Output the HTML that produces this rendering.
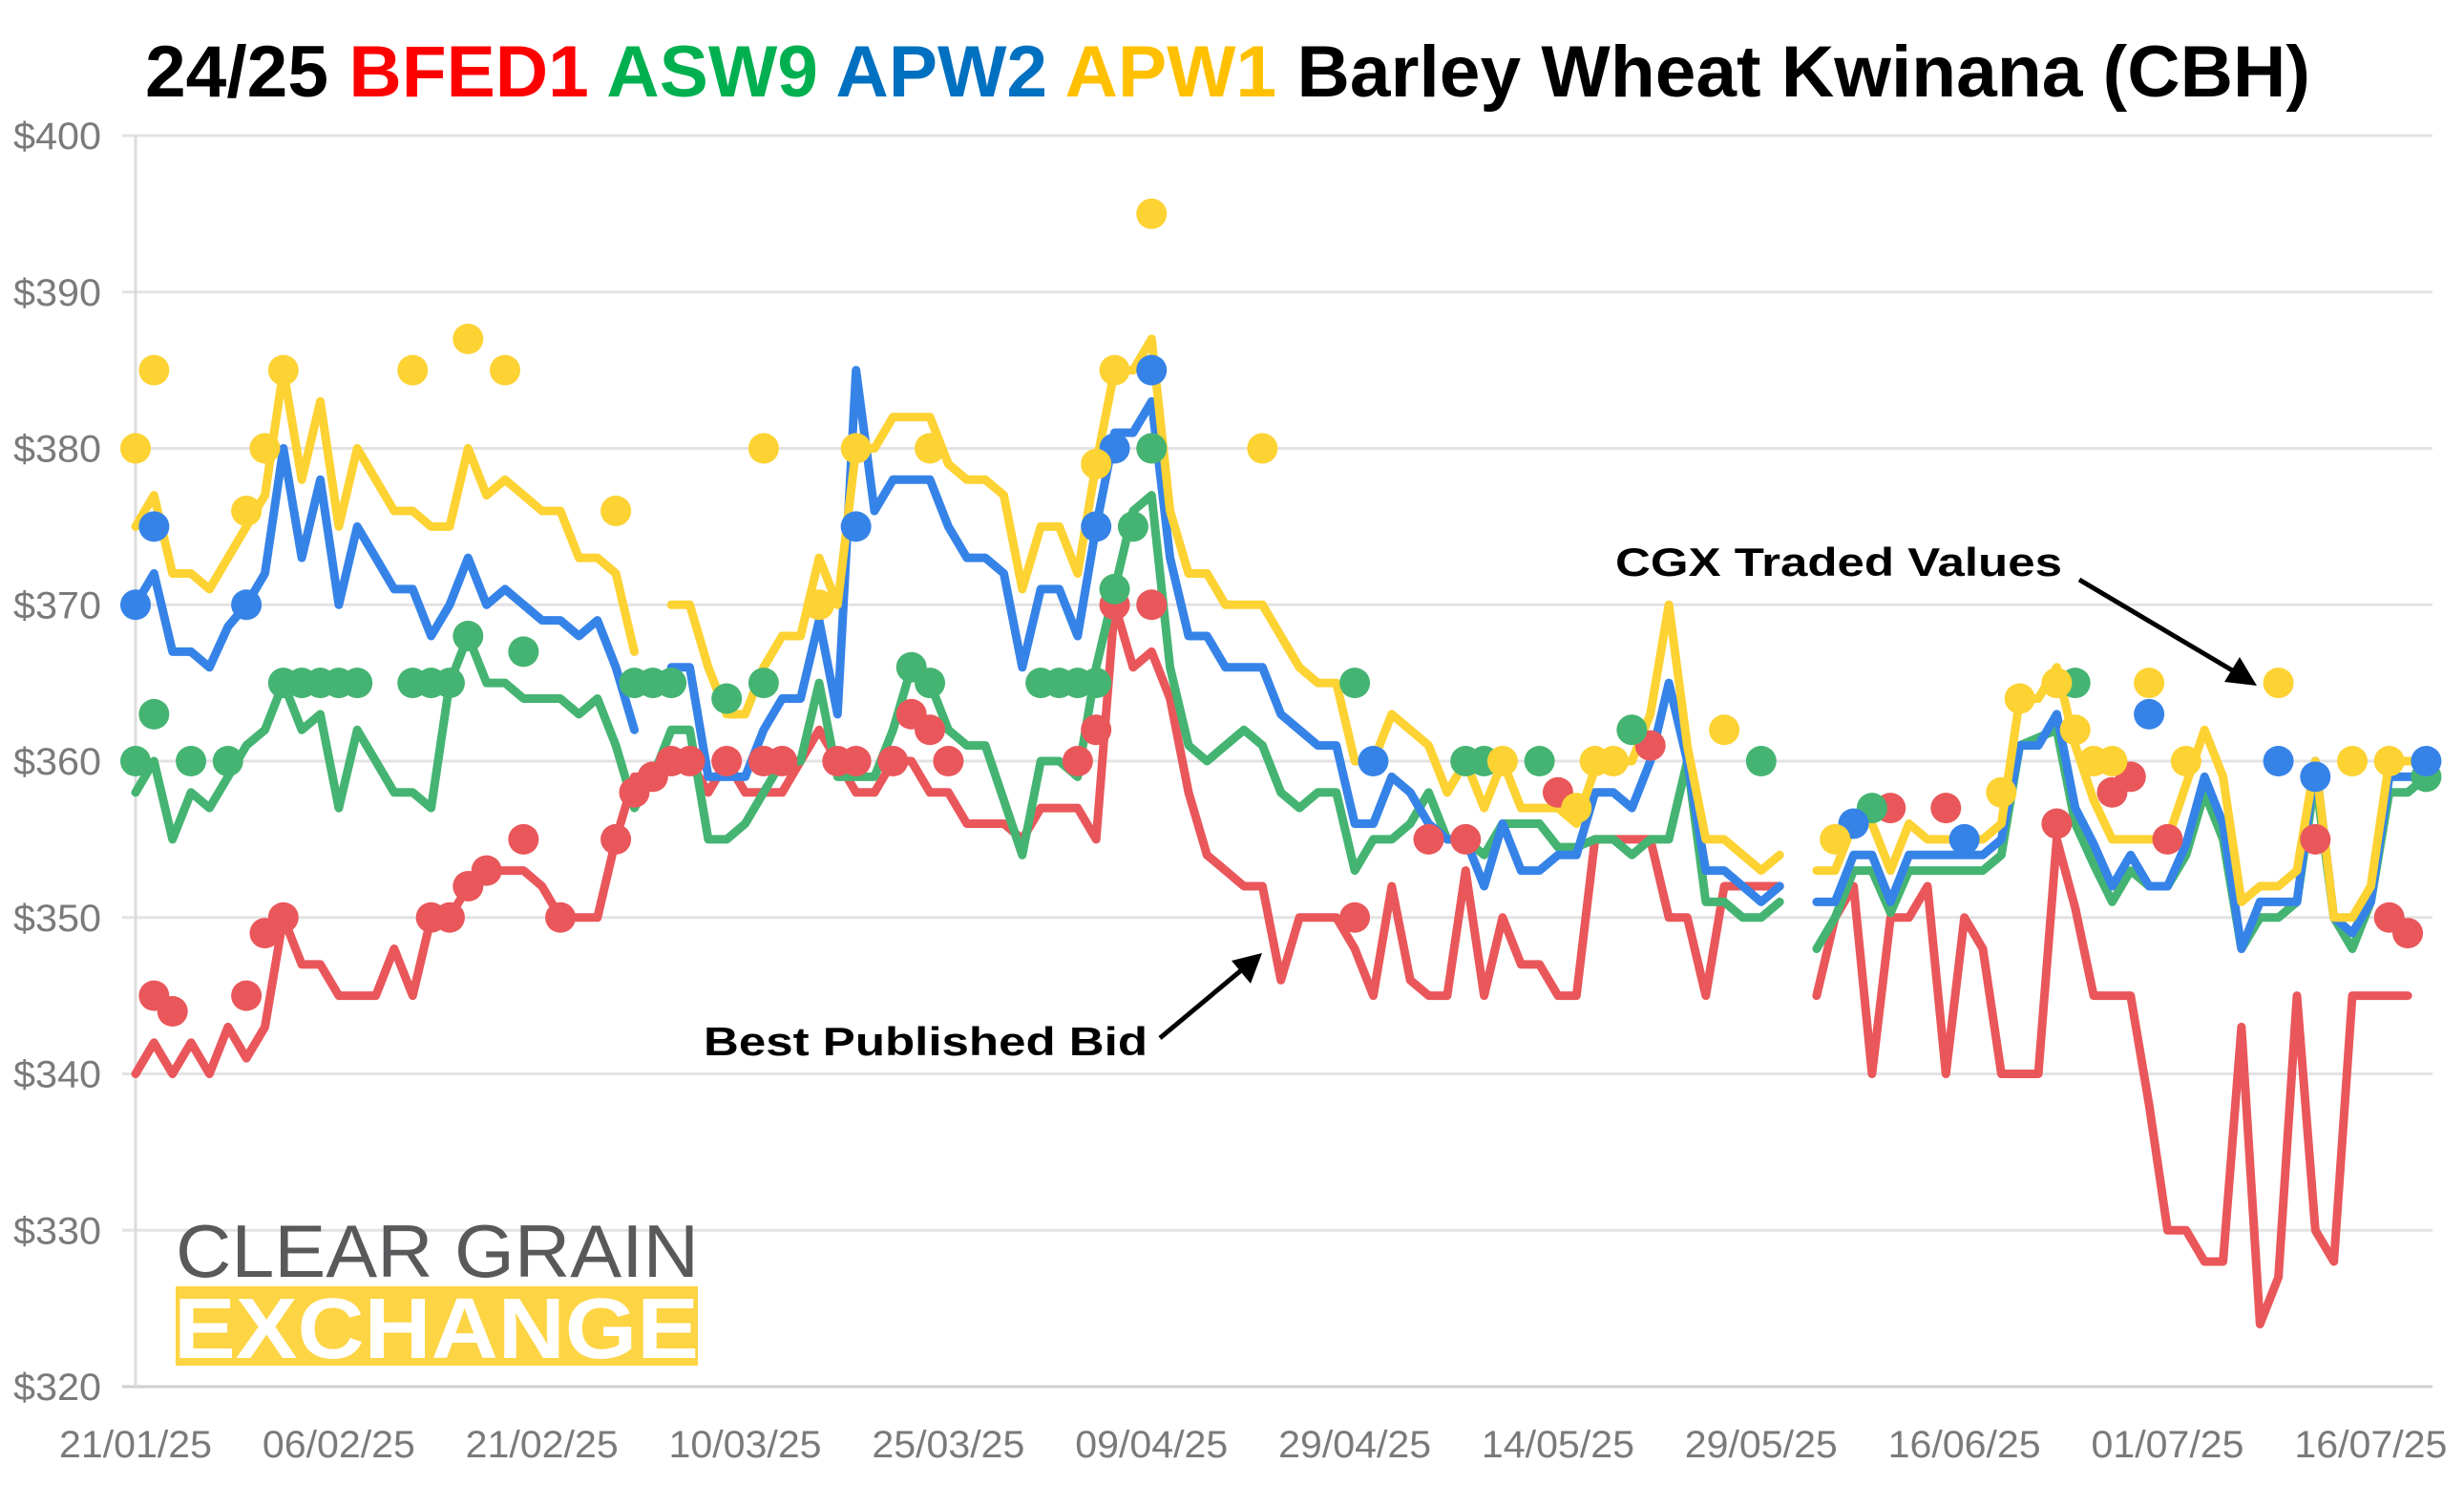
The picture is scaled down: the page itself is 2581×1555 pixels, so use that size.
<!DOCTYPE html>
<html><head><meta charset="utf-8"><title>24/25 Barley Wheat Kwinana</title>
<style>
html,body{margin:0;padding:0;background:#fff;}
svg{display:block;font-family:"Liberation Sans",sans-serif;}
</style></head>
<body>
<svg id="chart" width="2581" height="1555" viewBox="0 0 2581 1555" xmlns="http://www.w3.org/2000/svg">
<rect width="2581" height="1555" fill="#fff"/>
<text x="152" y="101" font-size="76" font-weight="bold" textLength="2268" lengthAdjust="spacingAndGlyphs"><tspan fill="#000">24/25 </tspan><tspan fill="#ff0000">BFED1 </tspan><tspan fill="#00b050">ASW9 </tspan><tspan fill="#0070c0">APW2 </tspan><tspan fill="#ffc000">APW1 </tspan><tspan fill="#000">Barley Wheat Kwinana (CBH)</tspan></text>
<g id="grid"></g>
<g id="logo">
<text x="184" y="1337" font-size="78" fill="#58595b" textLength="548" lengthAdjust="spacingAndGlyphs">CLEAR GRAIN</text>
<rect x="184" y="1347" width="547" height="83" fill="#fdd443"/>
<text x="182" y="1422" font-size="90" font-weight="bold" fill="#fff" textLength="550" lengthAdjust="spacingAndGlyphs">EXCHANGE</text>
</g>
<g id="series"></g>
<g id="annot">
<text x="1692" y="603" font-size="42" font-weight="bold" fill="#000" textLength="468" lengthAdjust="spacingAndGlyphs">CGX Traded Values</text>
<line x1="2178" y1="607" x2="2345" y2="706" stroke="#000" stroke-width="5"/>
<polygon points="2364,718 2330,714 2346,688" fill="#000"/>
<text x="737" y="1105" font-size="42" font-weight="bold" fill="#000" textLength="465" lengthAdjust="spacingAndGlyphs">Best Published Bid</text>
<line x1="1215" y1="1087" x2="1305" y2="1012" stroke="#000" stroke-width="5"/>
<polygon points="1322,998 1310,1030 1290,1006" fill="#000"/>
</g>
</svg>
<script>
const yTicks = [320,330,340,350,360,370,380,390,400];
const yTickLabels = ["$320","$330","$340","$350","$360","$370","$380","$390","$400"];
const xLabels = ["21/01/25","06/02/25","21/02/25","10/03/25","25/03/25","09/04/25","29/04/25","14/05/25","29/05/25","16/06/25","01/07/25","16/07/25"];
const xLabelIdx = [0,11,22,33,44,55,66,77,88,99,110,121];

const apw1 = [375,377,372,372,371,373,375,377,385,378,383,375,380,378,376,376,375,375,380,377,378,377,376,376,373,373,372,367,null,
370,370,366,363,363,366,368,368,373,370,380,380,382,382,382,379,378,378,377,371,375,375,372,379,385,385,387,376,372,372,370,370,370,
368,366,365,365,360,360,363,362,361,358,360,357,360,357,357,357,356,359.5,360,360,363,370,361,355,355,354,353,354,null,
353,353,356,356,353,356,355,355,355,355,356,364,364,366,361,357.5,355,355,355,355,358.5,362,359,351,352,352,353,360,350,350,352,360,360,360];
const apw2 = [370,372,367,367,366,368.6,370,372,380,373,378,370,375,373,371,371,368,370,373,370,371,370,369,369,368,369,366,362,null,
366,366,359,359,359,362,364,364,369,363,385,376,378,378,378,375,373,373,372,366,371,371,368,375,381,381,383,373,368,368,366,366,366,
363,362,361,361,356,356,359,358,356,355,355,352,356,353,353,354,354,358,358,357,360,365,360,353,353,352,351,352,null,
351,351,354,354,351,354,354,354,354,354,355,361,361,363,357,354.7,352,354,352,352,354.7,359,356,348,351,351,351,360,350,349,351,359,359,359];
const asw9 = [358,360,355,358,357,359,361,362,365,362,363,357,362,360,358,358,357,365,368,365,365,364,364,364,363,364,361,357,359,
362,362,355,355,356,358,360,360,365,359,359,359,362,366,365,362,361,361,357.5,354,360,360,359,366,371,376,377,366,361,360,361,362,361,
358,357,358,358,353,355,355,356,358,355,355,354,356,356,356,354.5,354.5,355,355,354,355,355,360,351,351,350,350,351,null,
348,350,353,353,350.3,353,353,353,353,353,354,361,361.5,362,356,353.4,351,353,352,352,354,358,355,348,350,350,351,359,350,348,351,358,358,359];
const bfed1 = [340,342,340,342,340,343,341,343,350,347,347,345,345,345,348,345,350,350,352,353,353,353,352,350,350,350,355,359,359,
360,360,358,360,358,358,358,360,362,360,358,358,360,360,358,358,356,356,356,355,357,357,357,355,370,366,367,364,358,354,353,352,352,
346,350,350,350,348,345,352,346,345,345,353,345,350,347,347,345,345,355,355,355,355,350,350,345,352,352,352,352,null,
345,350,352,340,350,350,352,340,350,348,340,340,340,355,350.6,345,345,345,338,330,330,328,328,343,324,327,345,330,328,345,345,345,345];

const apw1DotIdx = [0,1,6,7,8,15,18,20,26,34,37,39,43,52,53,55,61,74,78,79,80,86,92,101,102,104,105,106,107,109,111,116,120,122];
const apw1DotVal = [380,385,376,380,385,385,387,385,376,380,370,380,380,379,385,395,380,360,357,360,360,362,355,358,364,365,362,360,360,365,360,365,360,360];
const apw2DotIdx = [0,1,6,39,52,53,55,67,93,99,109,116,118,124];
const apw2DotVal = [370,375,370,375,375,380,385,360,356,355,363,360,359,360];
const asw9DotIdx = [0,1,3,5,8,9,10,11,12,15,16,17,18,21,27,28,29,32,34,42,43,49,50,51,52,53,54,55,66,72,73,76,81,88,94,105,124];
const asw9DotVal = [360,363,360,360,365,365,365,365,365,365,365,365,368,367,365,365,365,364,365,366,365,365,365,365,365,371,375,380,365,360,360,360,362,360,357,365,359];
const bfed1DotIdx = [1,2,6,7,8,16,17,18,19,21,23,26,27,28,29,30,32,34,35,38,39,41,42,43,44,51,52,53,55,66,70,72,77,82,95,98,104,107,108,110,118,122,123];
const bfed1DotVal = [345,344,345,349,350,350,350,352,353,355,350,355,358,359,360,360,360,360,360,360,360,360,363,362,360,360,362,370,370,350,355,355,358,361,357,357,356,358,359,355,355,350,349];

const NS = "http://www.w3.org/2000/svg";
const X0 = 142, STEP = 19.35, Y320 = 1452, PX_PER = 16.375;
function xs(i){ return X0 + i*STEP; }
function ys(v){ return Y320 - (v-320)*PX_PER; }
function mk(tag, attrs, parent){
  const e = document.createElementNS(NS, tag);
  for (const k in attrs) e.setAttribute(k, attrs[k]);
  parent.appendChild(e);
  return e;
}
const grid = document.getElementById('grid');
yTicks.forEach((t, k) => {
  const gl = mk('line', {x1: 128, x2: 2548, y1: ys(t), y2: ys(t), stroke: k===0 ? '#cfcfcf' : '#e3e3e3', 'stroke-width': 3}, grid);
  
  
  const tl = mk('text', {x: 106, y: ys(t)+14, 'text-anchor': 'end', 'font-size': 40, fill: '#7a7a7a', textLength: 92, lengthAdjust: 'spacingAndGlyphs'}, grid);
  tl.textContent = yTickLabels[k];
  
  
});
const ax = mk('line', {x1: X0, x2: X0, y1: ys(400), y2: ys(320), stroke: '#dcdcdc', 'stroke-width': 3}, grid);


xLabels.forEach((lab, k) => {
  const t = mk('text', {x: xs(xLabelIdx[k]), y: 1526, 'text-anchor': 'middle', 'font-size': 40, fill: '#7a7a7a', textLength: 160, lengthAdjust: 'spacingAndGlyphs'}, grid);
  t.textContent = lab;
  
  
});

const series = document.getElementById('series');
function drawLine(vals, color, name){
  let d = '', pen = false;
  vals.forEach((v, i) => {
    if (v === null) { pen = false; return; }
    d += (pen ? 'L' : 'M') + xs(i).toFixed(1) + ' ' + ys(v).toFixed(1) + ' ';
    pen = true;
  });
  const p = mk('path', {d: d, fill: 'none', stroke: color, 'stroke-width': 9, 'stroke-linejoin': 'round', 'stroke-linecap': 'round'}, series);
  
  
}
function drawDots(idx, vals, color, name){
  idx.forEach((i, k) => {
    const c = mk('circle', {cx: xs(i), cy: ys(vals[k]), r: 16, fill: color}, series);
    
    
  });
}
drawLine(bfed1, '#e9575b', 'bfed1-line');
drawLine(asw9, '#45b472', 'asw9-line');
drawLine(apw2, '#3683e8', 'apw2-line');
drawLine(apw1, '#fdd233', 'apw1-line');
drawDots(bfed1DotIdx, bfed1DotVal, '#e9575b', 'bfed1-traded-dot');
drawDots(asw9DotIdx, asw9DotVal, '#45b472', 'asw9-traded-dot');
drawDots(apw2DotIdx, apw2DotVal, '#3683e8', 'apw2-traded-dot');
drawDots(apw1DotIdx, apw1DotVal, '#fdd233', 'apw1-traded-dot');
</script>
</body></html>
